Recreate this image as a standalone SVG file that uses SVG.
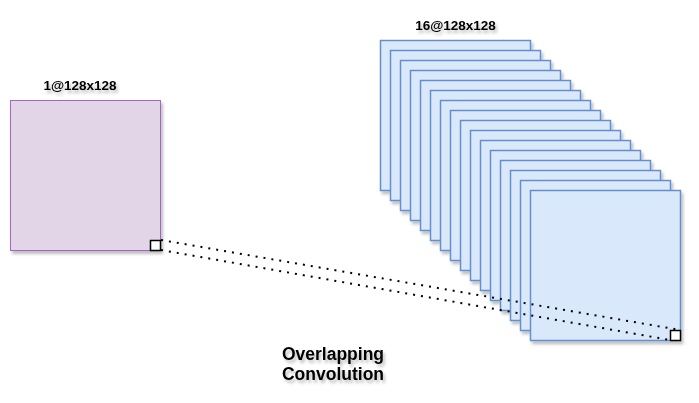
<svg xmlns="http://www.w3.org/2000/svg" width="699" height="403" viewBox="0 0 699 403">
<defs>
<filter id="sh" x="-20%" y="-20%" width="150%" height="150%">
<feDropShadow dx="2" dy="3" stdDeviation="1.5" flood-color="#000" flood-opacity="0.25"/>
</filter>
</defs>
<style>
.lbl{font-family:"Liberation Sans",Arial,sans-serif;font-weight:bold;fill:#000;text-anchor:middle}
.blue{fill:#dae8fc;stroke:#6c8ebf;stroke-width:1.5}
.purple{fill:#e1d5e7;stroke:#9673a6;stroke-width:1}
.k{fill:#fff;stroke:#000;stroke-width:1.5}
.dot{fill:none;stroke:#000;stroke-width:2;stroke-dasharray:2 6}
</style>
<rect width="699" height="403" fill="#fff"/>
<g id="input">
<rect class="purple" x="10.5" y="100.5" width="150" height="150" filter="url(#sh)"/>
<text class="lbl" x="80" y="90" font-size="13.5" filter="url(#sh)">1@128x128</text>
</g>
<g id="feature-maps" filter="url(#sh)">
<rect class="blue" x="380.5" y="40.5" width="150" height="150"/>
<rect class="blue" x="390.5" y="50.5" width="150" height="150"/>
<rect class="blue" x="400.5" y="60.5" width="150" height="150"/>
<rect class="blue" x="410.5" y="70.5" width="150" height="150"/>
<rect class="blue" x="420.5" y="80.5" width="150" height="150"/>
<rect class="blue" x="430.5" y="90.5" width="150" height="150"/>
<rect class="blue" x="440.5" y="100.5" width="150" height="150"/>
<rect class="blue" x="450.5" y="110.5" width="150" height="150"/>
<rect class="blue" x="460.5" y="120.5" width="150" height="150"/>
<rect class="blue" x="470.5" y="130.5" width="150" height="150"/>
<rect class="blue" x="480.5" y="140.5" width="150" height="150"/>
<rect class="blue" x="490.5" y="150.5" width="150" height="150"/>
<rect class="blue" x="500.5" y="160.5" width="150" height="150"/>
<rect class="blue" x="510.5" y="170.5" width="150" height="150"/>
<rect class="blue" x="520.5" y="180.5" width="150" height="150"/>
<rect class="blue" x="530.5" y="190.5" width="150" height="150"/>
</g>
<text id="maps-label" class="lbl" x="455.5" y="30" font-size="13.5" filter="url(#sh)">16@128x128</text>
<g id="connectors">
<line class="dot" x1="161" y1="240" x2="680" y2="330"/>
<line class="dot" x1="161" y1="250" x2="670" y2="340"/>
</g>
<g id="kernel-in">
<rect class="k" x="150.5" y="240.5" width="10" height="10"/>
</g>
<g id="kernel-out">
<rect class="k" x="670.5" y="330.5" width="10" height="10"/>
</g>
<g id="caption">
<text class="lbl" x="333" y="360" font-size="17.5" filter="url(#sh)">Overlapping</text>
<text class="lbl" x="333" y="380" font-size="17.5" filter="url(#sh)">Convolution</text>
</g>
</svg>
